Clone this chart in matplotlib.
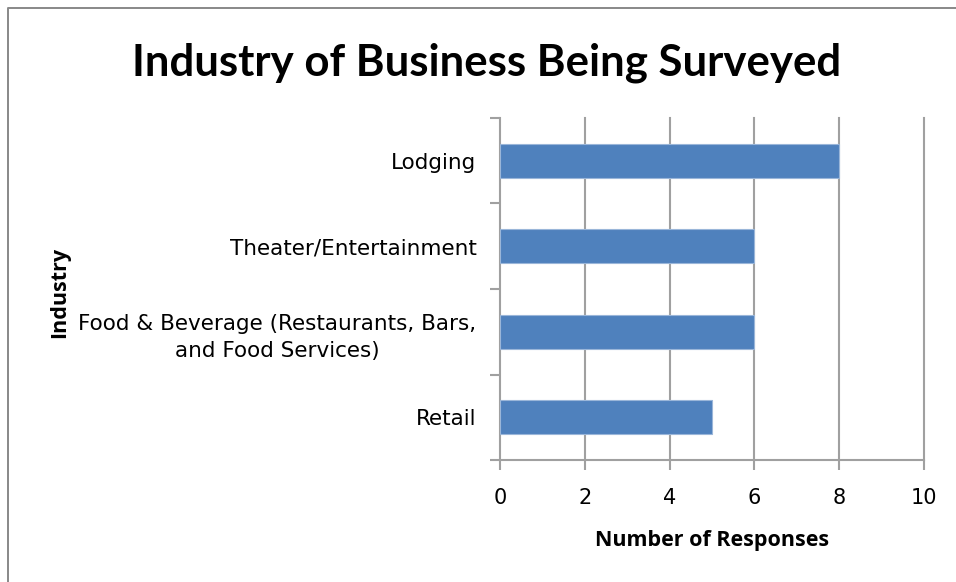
import matplotlib
matplotlib.use("Agg")
import matplotlib.pyplot as plt
from matplotlib.lines import Line2D

categories = ["Retail", "Food & Beverage (Restaurants, Bars,\nand Food Services)",
              "Theater/Entertainment", "Lodging"]
values = [5, 6, 6, 8]
xticks = [0, 2, 4, 6, 8, 10]

W, H = 956, 582
fig = plt.figure(figsize=(W / 100, H / 100), dpi=100)
# outer frame (only top and left edges visible in the screenshot)
fig.lines.append(Line2D([8/W, 8/W, 1.0], [0.0, 1 - 8/H, 1 - 8/H], transform=fig.transFigure,
                        color="#888888", linewidth=1.4))

ax = fig.add_axes([500/W, 122/H, 424/W, 342/H])
ypos = list(range(len(categories)))
ax.barh(ypos, values, height=0.4, color="#4f81bd", edgecolor="#9ab6d9", linewidth=0.8, zorder=3)
ax.set_xlim(0, 10)
ax.set_ylim(-0.5, len(categories) - 0.5)
ax.set_xticks(xticks)
ax.set_xticklabels([str(t) for t in xticks], fontsize=15, family="DejaVu Sans")
ax.set_yticks(ypos)
ax.set_yticklabels(categories, fontsize=15.5, family="DejaVu Sans", multialignment="center",
                   linespacing=1.45)
ax.set_yticks([i - 0.5 for i in range(len(categories) + 1)], minor=True)
ax.tick_params(axis="y", which="major", length=0, pad=17)
ax.tick_params(axis="y", which="minor", length=7, width=1.5, color="#a0a0a0", direction="out")
ax.tick_params(axis="x", which="major", length=7, width=1.5, color="#a0a0a0", direction="out", pad=13)
for t in ax.get_xticks():
    if t > 0:
        ax.axvline(t, color="#a0a0a0", linewidth=1.5, zorder=1, clip_on=False)
for s in ["top", "right"]:
    ax.spines[s].set_visible(False)
for s in ["left", "bottom"]:
    ax.spines[s].set_color("#a0a0a0")
    ax.spines[s].set_linewidth(1.5)

ax.set_xlabel("Number of Responses", fontsize=15.5, fontweight="bold", family="Open Sans", labelpad=16)
fig.text(60/W, 1 - 292/H, "Industry", rotation=90, ha="center", va="center",
         fontsize=15.5, fontweight="bold", family="Open Sans")

fig.text(487/W, 1 - 63/H, "Industry of Business Being Surveyed", ha="center", va="center",
         fontsize=31.5, fontweight="bold", family="Lato")

fig.savefig("out.png", dpi=100)
